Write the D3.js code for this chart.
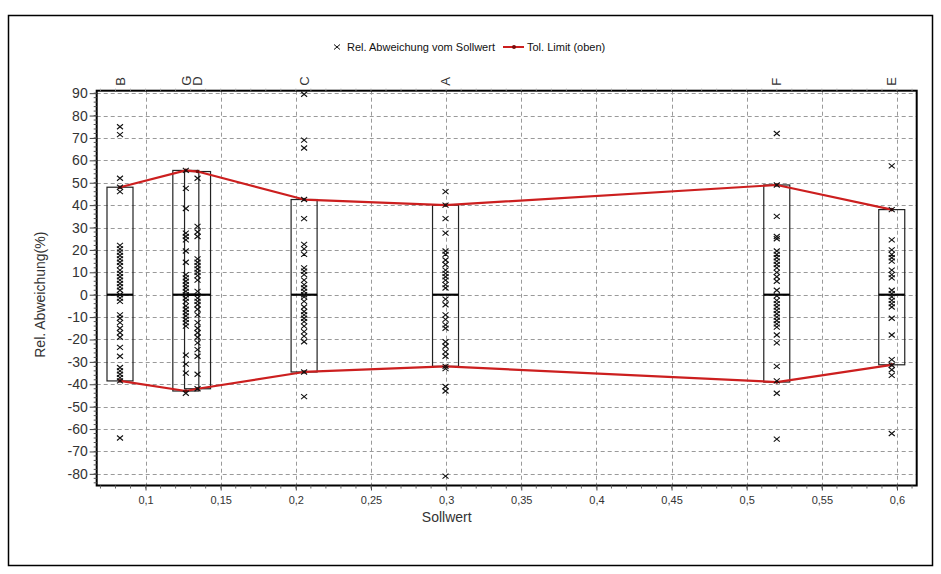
<!DOCTYPE html>
<html>
<head>
<meta charset="utf-8">
<script src="https://cdn.jsdelivr.net/npm/d3@7"></script>
<style>
  html, body { margin: 0; padding: 0; background: #fff; }
  svg { display: block; font-family: "Liberation Sans", Arial, sans-serif; }
</style>
</head>
<body>
<svg id="chart" width="941" height="574"></svg>
<script>
// ---------- data ----------
const categories = ["B", "G", "D", "C", "A", "F", "E"];
const sollwert   = [0.083, 0.1268, 0.1346, 0.2055, 0.2996, 0.52, 0.5965];
const tolUpper   = [48, 55.5, 55, 42.5, 40, 49, 38];
const tolLower   = [-38.5, -43, -42, -34.5, -32, -39, -31.3];

const devB = [75, 71.5, 52, 48, 46, 22, 20.5, 19, 17.5, 16, 14.5, 13, 11, 9.5, 8, 6.5, 5, 3.5, 2, 0, -1.5, -3, -9, -10.5, -12.5, -15, -17, -19, -23.5, -27.5, -32.5, -34, -35.5, -37, -38.5, -64];
const devG = [55.5, 47.5, 38.5, 27.5, 26, 24.5, 19.5, 14.5, 9, 7.5, 6, 4.5, 3, 1.5, 0, -1.5, -3, -5, -6.5, -8, -9.5, -11, -12.5, -14, -27, -31, -35, -44];
const devD = [52, 30.5, 28, 26, 16, 14.5, 13, 11.5, 10, 8.5, 6.5, 1.5, -1.5, -3, -4.5, -6.5, -9, -12.5, -15, -17, -19, -21.5, -24.5, -27.5, -35.5, -42];
const devC = [89.5, 69, 65.5, 42.5, 34, 22.5, 20.5, 18, 12, 10.5, 9, 6.5, 4.5, 3, 1.5, 0, -1, -3, -5.5, -7.5, -9, -10.5, -12, -14, -16.5, -18.5, -21, -34.5, -45.5];
const devA = [46, 40, 34, 27.5, 19.5, 18, 15.5, 13.5, 11, 9.5, 8, 6.5, 4.5, 3, -2, -4.5, -9, -11, -13.5, -15, -21, -23, -25.5, -27.5, -32, -33, -41, -43, -81];
const devF = [72, 49, 35, 26, 25, 19.5, 18, 16.5, 15, 13.5, 12, 10, 8, 6, 2, -0.5, -2.5, -4, -5.5, -7, -8.5, -10, -11.5, -13, -14.5, -18, -21.5, -32, -38.5, -44, -64.5];
const devE = [57.5, 38, 24.5, 20, 18, 16.5, 15, 11, 9, 7.5, 2, 0.5, -1, -2.5, -4, -5.5, -10.5, -18, -29, -31.5, -33.5, -36, -62];
const deviations = [devB, devG, devD, devC, devA, devF, devE];

const xTicks = [0.1, 0.15, 0.2, 0.25, 0.3, 0.35, 0.4, 0.45, 0.5, 0.55, 0.6];
const yTicks = [90, 80, 70, 60, 50, 40, 30, 20, 10, 0, -10, -20, -30, -40, -50, -60, -70, -80];
const xDomain = [0.0675, 0.6131];
const yDomain = [-85.2, 91.1];

const legendPoints = "Rel. Abweichung vom Sollwert";
const legendLimit = "Tol. Limit (oben)";
const xTitle = "Sollwert";
const yTitle = "Rel. Abweichung(%)";

// ---------- layout ----------
const P = { left: 96.7, right: 916.7, top: 90.7, bottom: 485.5 };
const svg = d3.select("#chart");

const x = d3.scaleLinear().domain(xDomain).range([P.left, P.right]);
const y = d3.scaleLinear().domain(yDomain).range([P.bottom, P.top]);
const fmt = d => String(d).replace(".", ",");

// outer frame
svg.append("rect").attr("x", 8.5).attr("y", 15.5).attr("width", 924).attr("height", 550)
  .attr("fill", "none").attr("stroke", "#000").attr("stroke-width", 1.5);

// gridlines
const grid = svg.append("g").attr("stroke", "#9a9a9a").attr("stroke-dasharray", "4,3").attr("stroke-width", 1);
grid.selectAll(".gx").data(xTicks).join("line")
  .attr("x1", d => Math.round(x(d)) + 0.5).attr("x2", d => Math.round(x(d)) + 0.5)
  .attr("y1", P.top).attr("y2", P.bottom);
grid.selectAll(".gy").data(yTicks).join("line")
  .attr("y1", d => Math.round(y(d)) + 0.5).attr("y2", d => Math.round(y(d)) + 0.5)
  .attr("x1", P.left).attr("x2", P.right);

// boxes
const boxes = svg.append("g");
categories.forEach((c, i) => {
  const cx = x(sollwert[i]);
  boxes.append("rect")
    .attr("x", cx - 13).attr("width", 26)
    .attr("y", y(tolUpper[i])).attr("height", y(tolLower[i]) - y(tolUpper[i]))
    .attr("fill", "none").attr("stroke", "#222").attr("stroke-width", 1.2);
});
categories.forEach((c, i) => {
  const cx = x(sollwert[i]);
  boxes.append("line")
    .attr("x1", cx - 13).attr("x2", cx + 13)
    .attr("y1", y(0)).attr("y2", y(0))
    .attr("stroke", "#000").attr("stroke-width", 2.2);
});

// tolerance limit lines
const idx = d3.range(categories.length);
const lineUp = d3.line().x(i => x(sollwert[i])).y(i => y(tolUpper[i]));
const lineLo = d3.line().x(i => x(sollwert[i])).y(i => y(tolLower[i]));
[lineUp, lineLo].forEach(l => {
  svg.append("path").attr("d", l(idx)).attr("fill", "none")
    .attr("stroke", "#cc1f1f").attr("stroke-width", 2.2).attr("stroke-linejoin", "round");
});
const mk = svg.append("g").attr("fill", "#7a0c0c");
idx.forEach(i => {
  mk.append("circle").attr("cx", x(sollwert[i])).attr("cy", y(tolUpper[i])).attr("r", 1.8);
  mk.append("circle").attr("cx", x(sollwert[i])).attr("cy", y(tolLower[i])).attr("r", 1.8);
});

// points (x markers)
const cross = "M-3,-2.5L3,2.5M-3,2.5L3,-2.5";
const pts = svg.append("g").attr("stroke", "#111").attr("stroke-width", 1.1).attr("fill", "none");
deviations.forEach((arr, i) => {
  pts.selectAll(null).data(arr).join("path")
    .attr("d", cross)
    .attr("transform", d => `translate(${x(sollwert[i])},${y(d)})`);
});

// plot border
svg.append("rect").attr("x", P.left).attr("y", P.top)
  .attr("width", P.right - P.left).attr("height", P.bottom - P.top)
  .attr("fill", "none").attr("stroke", "#000").attr("stroke-width", 2);

// left axis
const yAxis = d3.axisLeft(y).tickValues(yTicks).tickSize(7).tickPadding(2).tickFormat(d => d);
const gy = svg.append("g").attr("transform", `translate(${P.left},0)`).call(yAxis);
gy.select(".domain").remove();
gy.selectAll("text").attr("font-size", 14).attr("fill", "#333").attr("font-family", "Liberation Sans, Arial");
gy.selectAll("line").attr("stroke", "#444");
const yMinor = d3.range(-84, 91, 2);
svg.append("g").selectAll("line").data(yMinor).join("line")
  .attr("x1", P.left - 3).attr("x2", P.left)
  .attr("y1", d => y(d)).attr("y2", d => y(d)).attr("stroke", "#555");

// bottom axis
const xAxis = d3.axisBottom(x).tickValues(xTicks).tickSize(5).tickPadding(6).tickFormat(fmt);
const gx = svg.append("g").attr("transform", `translate(0,${P.bottom})`).call(xAxis);
gx.select(".domain").remove();
gx.selectAll("text").attr("font-size", 11).attr("fill", "#333");
gx.selectAll("line").attr("stroke", "#444");
const xMinor = d3.range(0.07, 0.613, 0.01);
svg.append("g").selectAll("line").data(xMinor).join("line")
  .attr("x1", d => x(d)).attr("x2", d => x(d))
  .attr("y1", P.bottom).attr("y2", P.bottom + 3).attr("stroke", "#666");

// top axis: minor ticks and category labels
svg.append("g").selectAll("line").data(xMinor).join("line")
  .attr("x1", d => x(d)).attr("x2", d => x(d))
  .attr("y1", P.top).attr("y2", P.top - 2).attr("stroke", "#aaa");
svg.append("g").selectAll("text").data(idx).join("text")
  .attr("transform", i => `translate(${x(sollwert[i])},${P.top - 5}) rotate(-90)`)
  .attr("dy", "0.36em")
  .attr("font-size", 13).attr("fill", "#333")
  .text(i => categories[i]);

// titles
svg.append("text").attr("x", (P.left + P.right) / 2 - 60).attr("y", 522)
  .attr("text-anchor", "middle").attr("font-size", 14).attr("fill", "#333").text(xTitle);
svg.append("text").attr("transform", `translate(45,${y(0)}) rotate(-90)`)
  .attr("text-anchor", "middle").attr("font-size", 14).attr("fill", "#333").text(yTitle);

// legend
const lg = svg.append("g").attr("transform", "translate(337,47)");
lg.append("path").attr("d", cross).attr("stroke", "#111").attr("fill", "none");
lg.append("text").attr("x", 10).attr("dy", "0.35em").attr("font-size", 11).attr("fill", "#111").text(legendPoints);
lg.append("line").attr("x1", 166).attr("x2", 187).attr("y1", 0).attr("y2", 0).attr("stroke", "#cc1f1f").attr("stroke-width", 2);
lg.append("circle").attr("cx", 177).attr("cy", 0).attr("r", 2).attr("fill", "#7a0c0c");
lg.append("text").attr("x", 190).attr("dy", "0.35em").attr("font-size", 11).attr("fill", "#111").text(legendLimit);
</script>
</body>
</html>
